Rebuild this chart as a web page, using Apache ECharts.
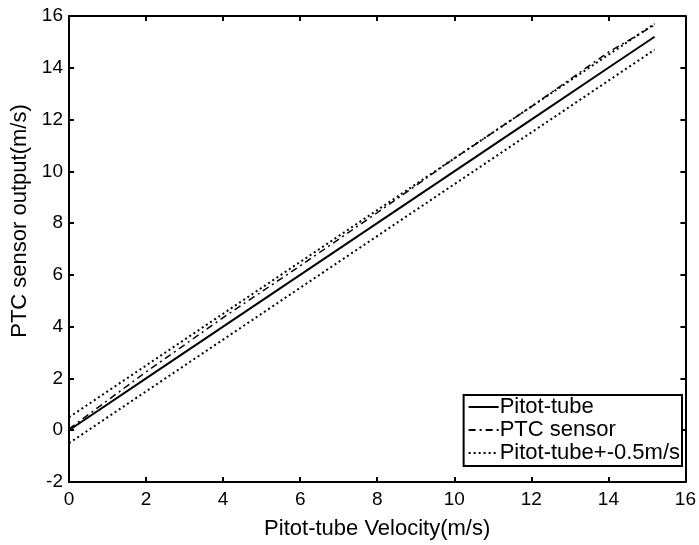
<!DOCTYPE html>
<html>
<head>
<meta charset="utf-8">
<script src="https://cdn.jsdelivr.net/npm/echarts@6/dist/echarts.min.js"></script>
<style>
  html, body { margin: 0; padding: 0; background: #fff; }
  #chart { width: 699px; height: 545px; }
</style>
</head>
<body>
<div id="chart"></div>
<script>
// velocities
var velocity = [0, 2, 4, 6, 8, 10, 12, 14, 15.2]
var pitotTube = [0, 2, 4, 6, 8, 10, 12, 14, 15.2]
var ptcSensor = [0.05, 2.25, 4.35, 6.35, 8.4, 10.5, 12.5, 14.6, 15.65]
var upperBand = [0.5, 2.5, 4.5, 6.5, 8.5, 10.5, 12.5, 14.5, 15.7]
var lowerBand = [-0.5, 1.5, 3.5, 5.5, 7.5, 9.5, 11.5, 13.5, 14.7]

function pairs (ys) {
  return velocity.map(function (x, i) { return [x, ys[i]] })
}

var chartDom = document.getElementById('chart')
var myChart = echarts.init(chartDom)
var font = 'Liberation Sans, Arial, sans-serif'

var baseAxis = {
  type: 'value',
  axisLine: { onZero: false, lineStyle: { color: '#000', width: 2 } },
  axisTick: { inside: true, length: 5, lineStyle: { color: '#000', width: 2 } },
  splitLine: { show: false },
  axisLabel: { color: '#000', fontSize: 19, fontFamily: font },
  nameTextStyle: { color: '#000', fontSize: 22, fontFamily: font }
}

var option = {
  backgroundColor: '#fff',
  animation: false,
  grid: { left: 69, right: 12, top: 16, bottom: 60 },
  legend: {
    right: 17,
    top: 395,
    orient: 'vertical',
    itemGap: 1,
    itemWidth: 30,
    itemHeight: 22,
    padding: [1, 2, 2, 4],
    borderColor: '#000',
    borderWidth: 2,
    borderRadius: 0,
    backgroundColor: '#fff',
    itemStyle: { opacity: 0 },
    textStyle: { color: '#000', fontSize: 22, fontFamily: font, padding: [0, 0, 0, -4] },
    data: ['Pitot-tube', 'PTC sensor', 'Pitot-tube+-0.5m/s']
  },
  xAxis: [
    Object.assign({}, baseAxis, {
      min: 0, max: 16, interval: 2,
      name: 'Pitot-tube Velocity(m/s)',
      nameLocation: 'middle',
      nameGap: 36,
      axisLabel: Object.assign({}, baseAxis.axisLabel, { margin: 8 })
    }),
    Object.assign({}, baseAxis, {
      min: 0, max: 16, interval: 2, position: 'top',
      axisLabel: { show: false }
    })
  ],
  yAxis: [
    Object.assign({}, baseAxis, {
      min: -2, max: 16, interval: 2,
      name: 'PTC sensor output(m/s)',
      nameLocation: 'middle',
      nameGap: 35,
      nameTextStyle: Object.assign({}, baseAxis.nameTextStyle, { padding: [0, 0, 0, 56] }),
      axisLabel: Object.assign({}, baseAxis.axisLabel, { margin: 6 })
    }),
    Object.assign({}, baseAxis, {
      min: -2, max: 16, interval: 2, position: 'right',
      axisLabel: { show: false }
    })
  ],
  series: [
    {
      name: 'Pitot-tube',
      type: 'line',
      symbol: 'none',
      data: pairs(pitotTube),
      lineStyle: { color: '#000', width: 2, type: 'solid' },
      itemStyle: { color: '#000' }
    },
    {
      name: 'PTC sensor',
      type: 'line',
      symbol: 'none',
      data: pairs(ptcSensor),
      lineStyle: { color: '#000', width: 1.5, type: [7, 4, 2, 4] },
      itemStyle: { color: '#000' }
    },
    {
      name: 'Pitot-tube+-0.5m/s',
      type: 'line',
      symbol: 'none',
      data: pairs(upperBand),
      lineStyle: { color: '#000', width: 2, type: [2, 3] },
      itemStyle: { color: '#000' }
    },
    {
      name: 'Pitot-tube+-0.5m/s',
      type: 'line',
      symbol: 'none',
      data: pairs(lowerBand),
      lineStyle: { color: '#000', width: 2, type: [2, 3] },
      itemStyle: { color: '#000' }
    }
  ]
}

option && myChart.setOption(option)
</script>
</body>
</html>
